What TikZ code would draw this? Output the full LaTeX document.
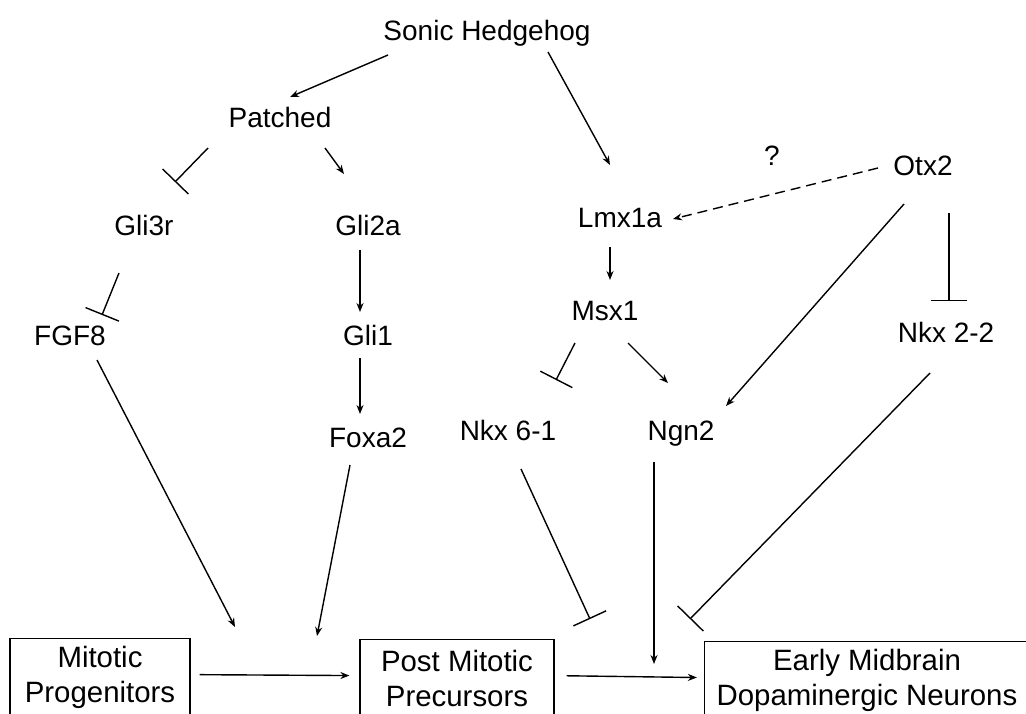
\documentclass[tikz,border=0pt]{standalone}
\usepackage{fontspec}
\setmainfont{Liberation Sans}
\usetikzlibrary{arrows.meta,positioning}

\begin{document}
\begin{tikzpicture}[
  x=0.5pt,y=-0.5pt,
  lbl/.style={inner sep=2pt,text height=10pt,text depth=3pt,
              font=\fontsize{14}{17.5}\selectfont},
  box/.style={draw,line width=0.6pt,align=center,inner sep=2pt,
              minimum height=39pt,anchor=north,
              font=\fontsize{14.7}{17.5}\selectfont},
  arr/.style={line width=0.7pt,-{Stealth[length=4.5pt,width=3.5pt]}},
  inh/.style={line width=0.7pt,-{Bar[width=18pt,line width=0.7pt]}},
  dsh/.style={arr,dash pattern=on 5pt off 3pt}
]
\useasboundingbox (0,0) rectangle (1026,713);
\clip (0,0) rectangle (1026,713);

% labels
\node[lbl] (shh) at (487,33) {Sonic Hedgehog};
\node[lbl] (ptc) at (280,120) {Patched};
\node[lbl] (gli3r) at (144,228) {Gli3r};
\node[lbl] (gli2a) at (368,228) {Gli2a};
\node[lbl] (lmx) at (620,220) {Lmx1a};
\node[lbl] (otx) at (923,168) {Otx2};
\node[lbl] (q) at (772,158) {?};
\node[lbl] (msx) at (605,313) {Msx1};
\node[lbl] (nkx22) at (946,335) {Nkx 2-2};
\node[lbl] (fgf) at (70,338) {FGF8};
\node[lbl] (gli1) at (368,338) {Gli1};
\node[lbl] (nkx61) at (508,433) {Nkx 6-1};
\node[lbl] (ngn) at (681,433) {Ngn2};
\node[lbl] (foxa) at (368,440) {Foxa2};

% cell stages
\node[box,minimum width=90pt] (mit) at (100,638) {Mitotic\\Progenitors};
\node[box,minimum width=97pt] (post) at (457,639) {Post Mitotic\\Precursors};
\node[box,minimum width=162.5pt] (edmn) at (867,641) {Early Midbrain\\Dopaminergic Neurons};

\coordinate (fgfEnd) at (235,627);
\coordinate (foxEnd) at (317,636);
\coordinate (n61End) at (590,619);
\coordinate (ngnEnd) at (654,664);
\coordinate (n22End) at (690,619);

% Shh branch
\draw[arr] ([shift={(-99,22)}]shh.center) -- ([shift={(10,-23)}]ptc.center);
\draw[arr] ([shift={(61,19)}]shh.center) -- ([shift={(-10,-55)}]lmx.center);
\draw[inh] ([shift={(-72,28)}]ptc.center) -- ([shift={(31,-46)}]gli3r.center);
\draw[arr] ([shift={(45,28)}]ptc.center) -- ([shift={(-24,-54)}]gli2a.center);
\draw[inh] ([shift={(-25,45)}]gli3r.center) -- ([shift={(32,-23)}]fgf.center);
\draw[arr] ([shift={(-8,22)}]gli2a.center) -- ([shift={(-8,-26)}]gli1.center);
\draw[arr] ([shift={(-8,20)}]gli1.center) -- ([shift={(-8,-26)}]foxa.center);
\draw[arr] ([shift={(27,22)}]fgf.center) -- (fgfEnd);
\draw[arr] ([shift={(-18,25)}]foxa.center) -- (foxEnd);

% Lmx1a / Otx2 branch
\draw[arr] ([shift={(-10,27)}]lmx.center) -- ([shift={(5,-33)}]msx.center);
\draw[dsh] ([shift={(-45,0)}]otx.center) -- ([shift={(53,-1)}]lmx.center);
\draw[arr] ([shift={(-19,36)}]otx.center) -- ([shift={(45,-27)}]ngn.center);
\draw[inh] ([shift={(26,45)}]otx.center) -- ([shift={(3,-34)}]nkx22.center);
\draw[inh] ([shift={(-30,30)}]msx.center) -- ([shift={(48,-53)}]nkx61.center);
\draw[arr] ([shift={(23,30)}]msx.center) -- ([shift={(-13,-50)}]ngn.center);
\draw[inh] ([shift={(13,36)}]nkx61.center) -- (n61End);
\draw[arr] ([shift={(-27,29)}]ngn.center) -- (ngnEnd);
\draw[inh] ([shift={(-16,38)}]nkx22.center) -- (n22End);

% stages
\draw[arr,shorten <=4.5pt,shorten >=5pt] ([yshift=1.5pt]mit.east) -- ([yshift=1.5pt]post.west);
\draw[arr,shorten <=6pt,shorten >=3.5pt] ([yshift=1.5pt]post.east) -- ([yshift=1.5pt]edmn.west);
\end{tikzpicture}
\end{document}
